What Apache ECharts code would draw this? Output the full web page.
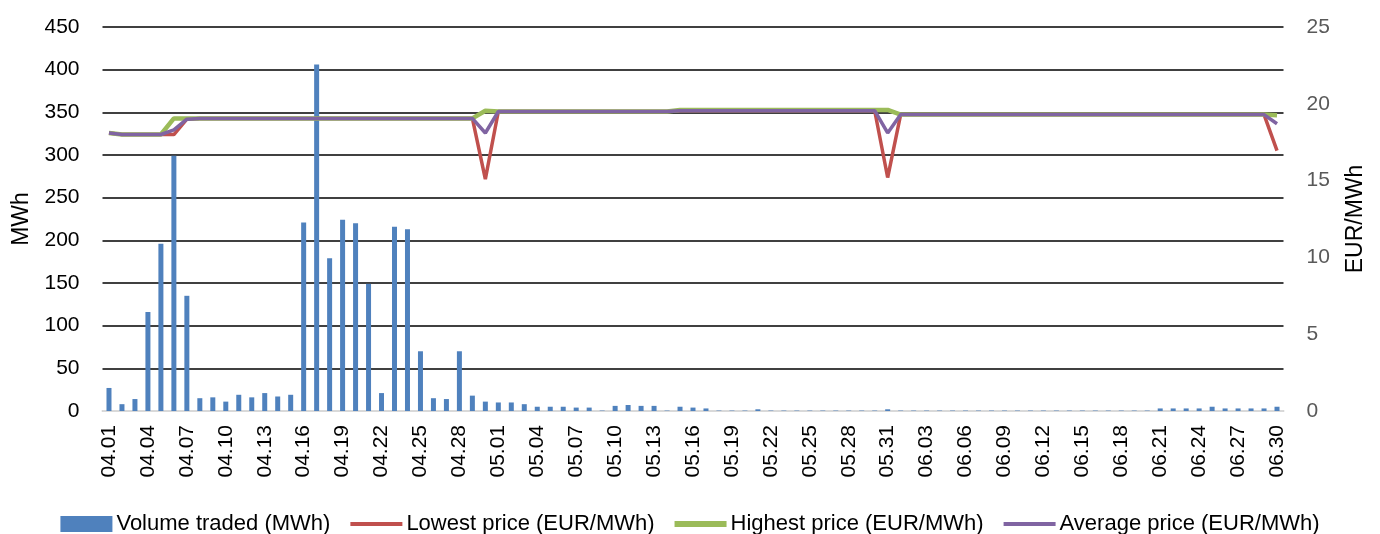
<!DOCTYPE html>
<html>
<head>
<meta charset="utf-8">
<script src="https://cdn.jsdelivr.net/npm/echarts@6/dist/echarts.min.js"></script>
<style>
html,body{margin:0;padding:0;background:#fff;}
#chart{width:1380px;height:534px;}
</style>
</head>
<body>
<div id="chart"></div>
<script>
const dates = [
'04.01','04.02','04.03','04.04','04.05','04.06','04.07','04.08','04.09','04.10',
'04.11','04.12','04.13','04.14','04.15','04.16','04.17','04.18','04.19','04.20',
'04.21','04.22','04.23','04.24','04.25','04.26','04.27','04.28','04.29','04.30',
'05.01','05.02','05.03','05.04','05.05','05.06','05.07','05.08','05.09','05.10',
'05.11','05.12','05.13','05.14','05.15','05.16','05.17','05.18','05.19','05.20',
'05.21','05.22','05.23','05.24','05.25','05.26','05.27','05.28','05.29','05.30','05.31',
'06.01','06.02','06.03','06.04','06.05','06.06','06.07','06.08','06.09','06.10',
'06.11','06.12','06.13','06.14','06.15','06.16','06.17','06.18','06.19','06.20',
'06.21','06.22','06.23','06.24','06.25','06.26','06.27','06.28','06.29','06.30'
];

const volume = [
27,8,14,116,196,299,135,15,16,11,
19,16,21,17,19,221,406,179,224,220,
149,21,216,213,70,15,14,70,18,11,
10,10,8,5,5,5,4,4,0.5,6,
7,6,6,0.5,5,4,3,0.5,0.5,0.5,
2,0.5,0.5,0.5,0.5,0.5,0.5,0.5,0.5,0.5,2,
0.5,0.5,0.5,0.5,0.5,0.5,0.5,0.5,0.5,0.5,
0.5,0.5,0.5,0.5,0.5,0.5,0.5,0.5,0.5,0.5,
3,3,3,3,5,3,3,3,3,5
];

const lowest = [
18.1,18.0,18.0,18.0,18.0,18.0,19.0,19.05,19.05,19.05,
19.05,19.05,19.05,19.05,19.05,19.05,19.05,19.05,19.05,19.05,
19.05,19.05,19.05,19.05,19.05,19.05,19.05,19.05,19.05,15.1,
19.5,19.5,19.5,19.5,19.5,19.5,19.5,19.5,19.5,19.5,
19.5,19.5,19.5,19.5,19.55,19.55,19.55,19.55,19.55,19.55,
19.55,19.55,19.55,19.55,19.55,19.55,19.55,19.55,19.55,19.55,15.2,
19.3,19.3,19.3,19.3,19.3,19.3,19.3,19.3,19.3,19.3,
19.3,19.3,19.3,19.3,19.3,19.3,19.3,19.3,19.3,19.3,
19.3,19.3,19.3,19.3,19.3,19.3,19.3,19.3,19.3,16.95
];

const highest = [
18.1,18.0,18.0,18.0,18.0,19.05,19.05,19.05,19.05,19.05,
19.05,19.05,19.05,19.05,19.05,19.05,19.05,19.05,19.05,19.05,
19.05,19.05,19.05,19.05,19.05,19.05,19.05,19.05,19.05,19.55,
19.5,19.5,19.5,19.5,19.5,19.5,19.5,19.5,19.5,19.5,
19.5,19.5,19.5,19.5,19.6,19.6,19.6,19.6,19.6,19.6,
19.6,19.6,19.6,19.6,19.6,19.6,19.6,19.6,19.6,19.6,19.6,
19.3,19.3,19.3,19.3,19.3,19.3,19.3,19.3,19.3,19.3,
19.3,19.3,19.3,19.3,19.3,19.3,19.3,19.3,19.3,19.3,
19.3,19.3,19.3,19.3,19.3,19.3,19.3,19.3,19.3,19.25
];

const average = [
18.1,18.0,18.0,18.0,18.0,18.3,19.0,19.05,19.05,19.05,
19.05,19.05,19.05,19.05,19.05,19.05,19.05,19.05,19.05,19.05,
19.05,19.05,19.05,19.05,19.05,19.05,19.05,19.05,19.05,18.1,
19.5,19.5,19.5,19.5,19.5,19.5,19.5,19.5,19.5,19.5,
19.5,19.5,19.5,19.5,19.55,19.55,19.55,19.55,19.55,19.55,
19.55,19.55,19.55,19.55,19.55,19.55,19.55,19.55,19.55,19.55,18.1,
19.3,19.3,19.3,19.3,19.3,19.3,19.3,19.3,19.3,19.3,
19.3,19.3,19.3,19.3,19.3,19.3,19.3,19.3,19.3,19.3,
19.3,19.3,19.3,19.3,19.3,19.3,19.3,19.3,19.3,18.7
];

const seriesNames = ['Volume traded (MWh)','Lowest price (EUR/MWh)','Highest price (EUR/MWh)','Average price (EUR/MWh)'];

const chart = echarts.init(document.getElementById('chart'), null, {renderer:'canvas'});
const font = "'Liberation Sans', Arial, sans-serif";
const lineIcon = 'path://M0,0H52V4H0Z';
chart.setOption({
  animation: false,
  grid: {left: 102.5, right: 96.5, top: 27, bottom: 123},
  legend: {
    top: 508,
    left: 'center',
    itemWidth: 52,
    itemHeight: 16,
    itemGap: 20,
    symbolKeepAspect: true,
    textStyle: {fontFamily: font, fontSize: 22, color: '#000', padding: [0,0,0,-1]},
    data: [
      {name: seriesNames[0], icon: 'rect'},
      {name: seriesNames[1], icon: lineIcon},
      {name: seriesNames[2], icon: 'path://M0,0H52V6H0Z'},
      {name: seriesNames[3], icon: lineIcon}
    ]
  },
  xAxis: {
    type: 'category',
    data: dates,
    boundaryGap: true,
    axisLine: {lineStyle: {color: '#d9d9d9', width: 2}},
    axisTick: {show: false},
    axisLabel: {interval: 2, rotate: 90, fontSize: 21, color: '#000', fontFamily: font, margin: 14}
  },
  yAxis: [
    {
      type: 'value', min: 0, max: 450, interval: 50,
      name: 'MWh', nameLocation: 'middle', nameGap: 68, nameRotate: 90,
      nameTextStyle: {fontSize: 23, color: '#000', fontFamily: font},
      axisLine: {show: false}, axisTick: {show: false},
      axisLabel: {fontSize: 21, color: '#000', fontFamily: font, margin: 23},
      splitLine: {lineStyle: {color: '#000', width: 1.5}}
    },
    {
      type: 'value', min: 0, max: 25, interval: 5,
      name: 'EUR/MWh', nameLocation: 'middle', nameGap: 61, nameRotate: 90,
      nameTextStyle: {fontSize: 23, color: '#000', fontFamily: font},
      axisLine: {show: false}, axisTick: {show: false},
      axisLabel: {fontSize: 21, color: '#595959', fontFamily: font, margin: 23},
      splitLine: {show: false}
    }
  ],
  series: [
    {
      name: seriesNames[0], type: 'bar', data: volume, yAxisIndex: 0,
      barWidth: 5, itemStyle: {color: '#4f81bd'}
    },
    {
      name: seriesNames[1], type: 'line', data: lowest, yAxisIndex: 1,
      showSymbol: false, symbol: 'none', lineStyle: {color: '#c0504d', width: 3.5}, itemStyle: {color: '#c0504d'}
    },
    {
      name: seriesNames[2], type: 'line', data: highest, yAxisIndex: 1,
      showSymbol: false, symbol: 'none', lineStyle: {color: '#9bbb59', width: 4.5}, itemStyle: {color: '#9bbb59'}
    },
    {
      name: seriesNames[3], type: 'line', data: average, yAxisIndex: 1,
      showSymbol: false, symbol: 'none', lineStyle: {color: '#8064a2', width: 3.5}, itemStyle: {color: '#8064a2'}
    }
  ]
});
</script>
</body>
</html>
